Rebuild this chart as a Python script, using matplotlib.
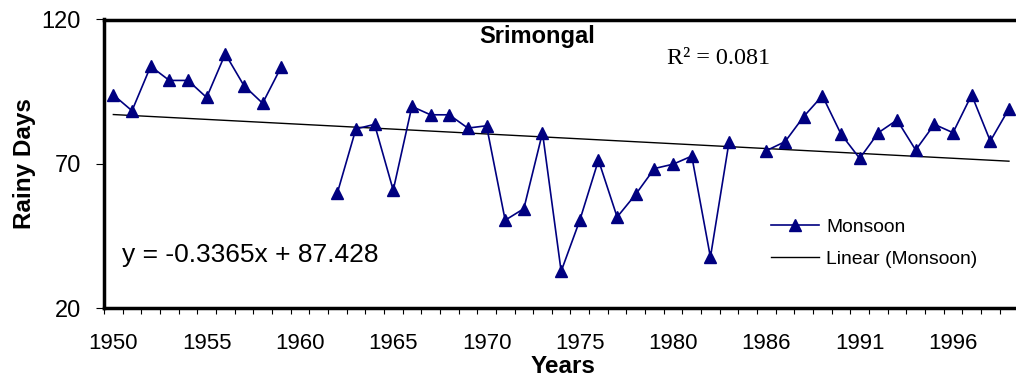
import numpy as np
import matplotlib
matplotlib.use("Agg")
import matplotlib.pyplot as plt
from matplotlib.ticker import FixedLocator, NullFormatter

# ---- data ----
years = [y for y in range(1950, 2000) if y != 1985]
monsoon = [93.9, 88.4, 103.8, 98.9, 98.9, 93.0, 108.1, 97.1, 91.0, 103.6,
           np.nan, np.nan, 59.8, 82.1, 83.7, 60.9, 89.9, 87.0, 87.0, 82.4,
           83.2, 50.5, 54.5, 80.8, 32.8, 50.5, 71.3, 51.6, 59.5, 68.4,
           69.9, 72.7, 37.7, 77.7, np.nan, 74.6, 77.7, 86.4, 93.6, 80.3,
           71.9, 80.8, 85.2, 74.8, 83.7, 80.8, 93.9, 77.9, 89.1]
trend_slope = -0.3365
trend_intercept = 87.428
r_squared = 0.081
label_step = 5
y_ticks = [20, 70, 120]

plt.rcParams['font.family'] = ['Liberation Sans', 'DejaVu Sans']

W, H = 1016, 379
fig = plt.figure(figsize=(W / 100, H / 100), dpi=100)
ax_left, ax_right, ax_top, ax_bot = 104, 1018.3, 19.5, 308.3
ax = fig.add_axes([ax_left / W, 1 - ax_bot / H, (ax_right - ax_left) / W, (ax_bot - ax_top) / H])

n = len(years)
x = np.arange(n)
vals = np.array(monsoon, dtype=float)

navy = '#000080'
ax.plot(x, vals, color=navy, lw=1.2, marker='^', ms=8.5, mfc=navy, mec=navy,
        label='Monsoon', clip_on=False, zorder=3)
trend = trend_slope * (x + 1) + trend_intercept
ax.plot(x, trend, color='black', lw=1.0, label='Linear (Monsoon)', zorder=2)

ax.set_xlim(-0.5, n - 0.5)
ax.set_ylim(y_ticks[0], y_ticks[-1])
ax.set_yticks(y_ticks)
ax.set_yticklabels([str(v) for v in y_ticks])

major = list(range(0, n, label_step))
ax.xaxis.set_major_locator(FixedLocator(major))
ax.set_xticklabels([str(years[i]) for i in major])
ax.xaxis.set_minor_locator(FixedLocator(np.arange(-0.5, n, 1.0)))
ax.xaxis.set_minor_formatter(NullFormatter())

ax.tick_params(axis='x', which='major', length=0, pad=17.5, labelsize=16)
ax.tick_params(axis='x', which='minor', length=4.3, width=0.8, direction='out')
ax.tick_params(axis='y', which='major', length=5.8, width=0.8, direction='out', pad=11, labelsize=17)

for s in ['left', 'bottom', 'top', 'right']:
    ax.spines[s].set_linewidth(2.5)

# texts
fig.text(537 / W, 1 - 42.7 / H, 'Srimongal', ha='center', va='baseline', fontsize=17, fontweight='bold')
fig.text(666.7 / W, 1 - 64.3 / H, f'R² = {r_squared}', ha='left', va='baseline', fontsize=17.4,
         family=['Liberation Serif', 'DejaVu Serif'])
fig.text(121.7 / W, 1 - 261.7 / H, f'y = {trend_slope}x + {trend_intercept}', ha='left', va='baseline', fontsize=19)
fig.text(563 / W, 1 - 373.3 / H, 'Years', ha='center', va='baseline', fontsize=17.5, fontweight='bold')
fig.text(24 / W, 1 - 164 / H, 'Rainy Days', ha='center', va='center', rotation=90, fontsize=17.5, fontweight='bold')

leg = ax.legend(loc='center left', bbox_to_anchor=(771 / W, 1 - 243 / H), bbox_transform=fig.transFigure,
                frameon=False, fontsize=13.9, handlelength=2.5, handletextpad=0.35, borderpad=0,
                borderaxespad=0, labelspacing=0.75)

fig.savefig('out.png', dpi=100)
